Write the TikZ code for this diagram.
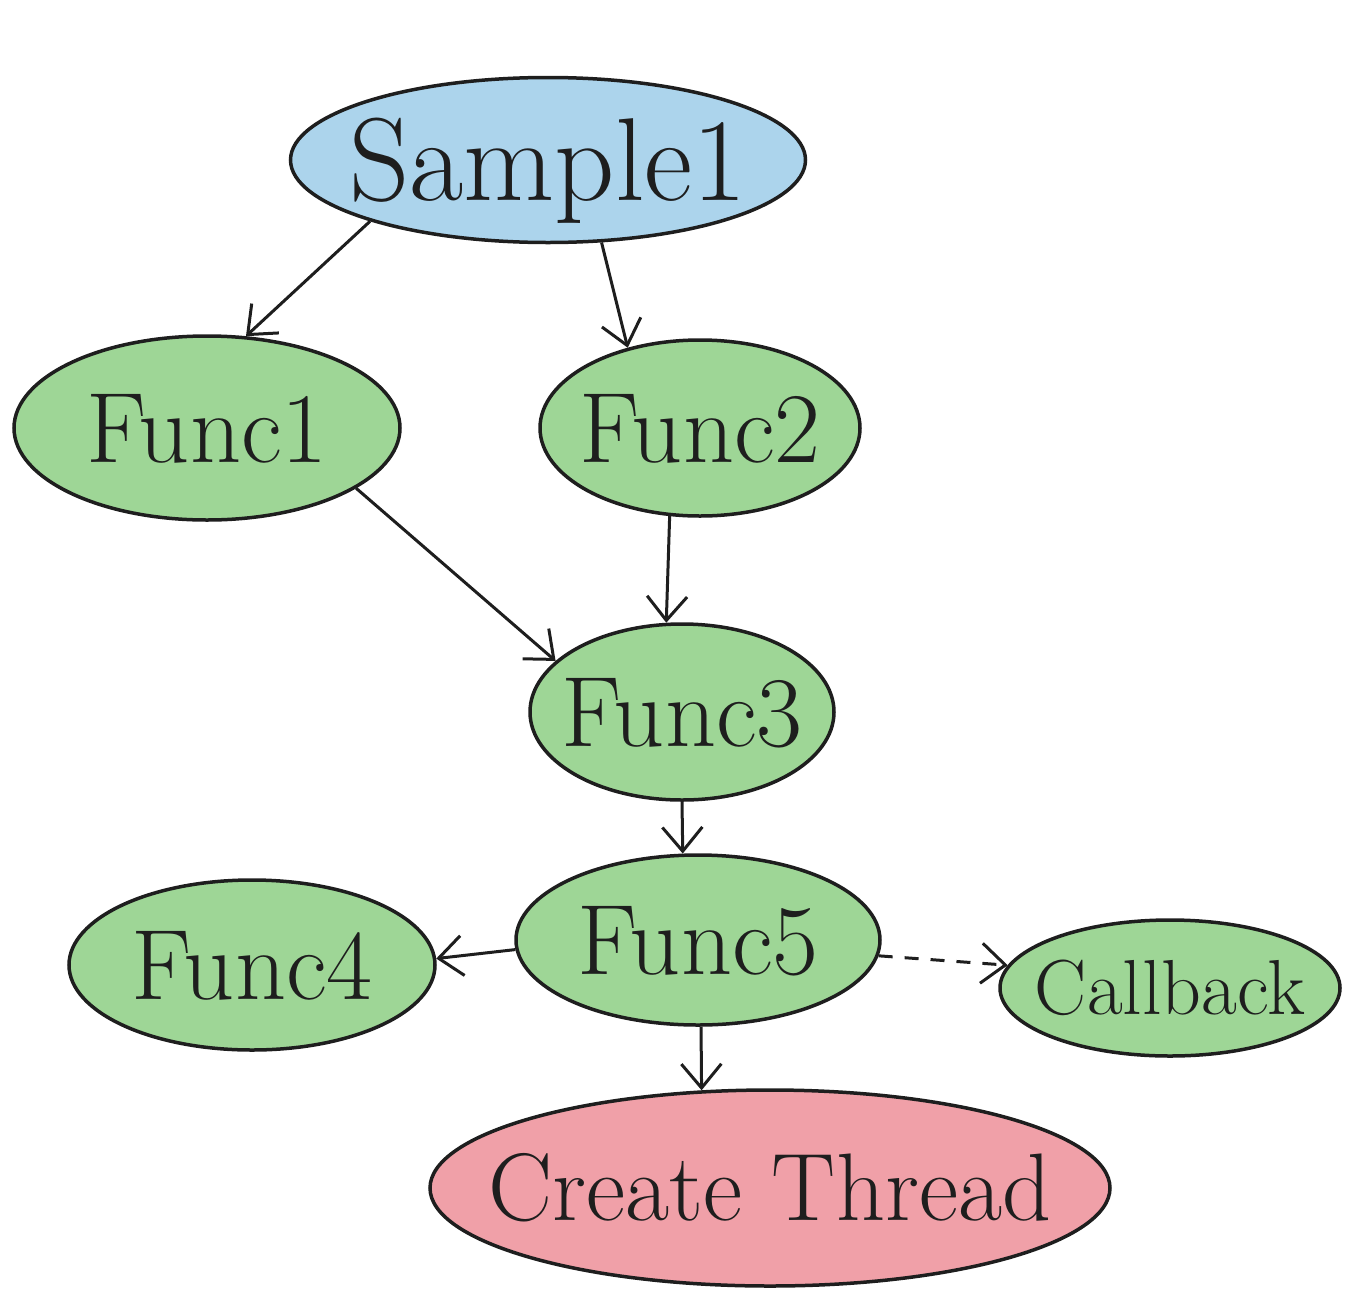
\documentclass[tikz,border=0pt]{standalone}
\usetikzlibrary{shapes.geometric,arrows.meta}
\definecolor{blueFill}{RGB}{172,212,236}
\definecolor{greenFill}{RGB}{158,214,150}
\definecolor{redFill}{RGB}{240,160,168}
\definecolor{inkCol}{RGB}{30,30,30}
\newcommand\blobtext[1]{\makebox[0pt]{\smash{\raisebox{-.34em}{#1}}}}
\begin{document}
\begin{tikzpicture}[x=1pt,y=-1pt,
  blob/.style={ellipse, draw=inkCol, line width=3.5pt, inner sep=0pt, fill=greenFill,
    font=\fontsize{100}{110}\selectfont, text=inkCol},
  conn/.style={draw=inkCol, line width=3pt, -{Straight Barb[length=24pt,width=40pt,line width=3pt]}}
]
\useasboundingbox (0,0) rectangle (1355,1304);
\node[blob, fill=blueFill, minimum width=515pt, minimum height=165pt,
  font=\fontsize{118}{130}\selectfont] (s) at (548,160) {\blobtext{Sample1}};
\node[blob, minimum width=386pt, minimum height=184pt] (f1) at (207,428) {\blobtext{Func1}};
\node[blob, minimum width=320pt, minimum height=176pt] (f2) at (700,428) {\blobtext{Func2}};
\node[blob, minimum width=304pt, minimum height=176pt] (f3) at (682,712) {\blobtext{Func3}};
\node[blob, minimum width=364pt, minimum height=170pt] (f5) at (698,940) {\blobtext{Func5}};
\node[blob, minimum width=366pt, minimum height=170pt] (f4) at (252,965) {\blobtext{Func4}};
\node[blob, minimum width=340pt, minimum height=136pt,
  font=\fontsize{78}{86}\selectfont] (cb) at (1170,988) {\blobtext{Callback}};
\node[blob, fill=redFill, minimum width=680pt, minimum height=196pt,
  font=\fontsize{96}{110}\selectfont] (ct) at (770,1188) {\blobtext{Create Thread}};

\draw[conn] (s.199) -- (f1.67);
\draw[conn] (s.-57) -- (f2.132);
\draw[conn] (f1.-22) -- (f3.158);
\draw[conn] (f2.-109) -- (f3.100);
\draw[conn] (f3.-90) -- (f5.100);
\draw[conn] (f5.183) -- (f4.2);
\draw[conn, dashed, dash pattern=on 14pt off 12pt] (f5.-5) -- (cb.172);
\draw[conn] (f5.-88) -- (ct.125);
\end{tikzpicture}
\end{document}
